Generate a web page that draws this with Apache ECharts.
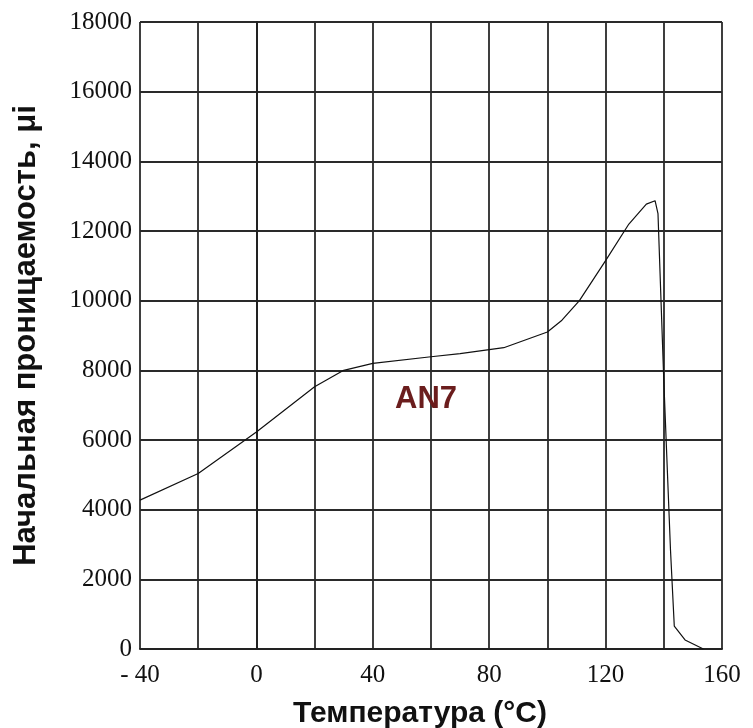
<!DOCTYPE html>
<html>
<head>
<meta charset="utf-8">
<script src="https://cdn.jsdelivr.net/npm/echarts@6/dist/echarts.min.js"></script>
<style>html,body{margin:0;padding:0;background:#fff}#c{width:753px;height:728px}</style>
</head>
<body>
<div id="c"></div>
<script>
var temperature = [-40, -20, 0, 20, 30, 40, 60, 70, 85, 100, 105, 111, 120, 128, 134, 137, 138, 140, 142.3, 143.6, 147.3, 153.6];
var permeability = [4275, 5040, 6230, 7530, 8000, 8200, 8390, 8480, 8650, 9100, 9440, 10000, 11150, 12200, 12770, 12870, 12500, 7700, 2840, 660, 260, 0];
var xTicks = [-40, 0, 40, 80, 120, 160];
var xTickLabels = ['- 40', '0', '40', '80', '120', '160'];
var yTickLabels = ['0', '2000', '4000', '6000', '8000', '10000', '12000', '14000', '16000', '18000'];
var seriesName = 'AN7';
var labelPos = [58.3, 7160];

var chart = echarts.init(document.getElementById('c'), null, {renderer: 'canvas'});
var gridLine = {show: true, lineStyle: {color: '#2a2a2a', width: 1.8}};
chart.setOption({
  animation: false,
  backgroundColor: '#fff',
  grid: {left: 140, right: 31, top: 22, bottom: 79, containLabel: false, outerBoundsMode: 'none'},
  xAxis: {
    type: 'value', min: -40, max: 160, interval: 20,
    name: 'Температура (°C)', nameLocation: 'middle', nameGap: 50,
    nameTextStyle: {fontFamily: 'Liberation Sans, Arial', fontWeight: 'bold', fontSize: 30, color: '#111', padding: [0, 22, 0, 0]},
    axisLine: {show: true, lineStyle: {color: '#222', width: 2}},
    axisTick: {show: false},
    splitLine: gridLine,
    axisLabel: {
      margin: 14, fontFamily: 'Liberation Serif, Times New Roman', fontSize: 25, color: '#111',
      formatter: function (v) { var i = xTicks.indexOf(v); return i >= 0 ? xTickLabels[i] : ''; }
    }
  },
  yAxis: {
    type: 'value', min: 0, max: 18000, interval: 2000,
    name: 'Начальная проницаемость, μi', nameLocation: 'middle', nameGap: 98,
    nameTextStyle: {fontFamily: 'Liberation Sans, Arial', fontWeight: 'bold', fontSize: 31, color: '#111'},
    axisLine: {show: true, lineStyle: {color: '#222', width: 2}},
    axisTick: {show: false},
    splitLine: gridLine,
    axisLabel: {
      margin: 8, fontFamily: 'Liberation Serif, Times New Roman', fontSize: 25, color: '#111',
      formatter: function (v) { return yTickLabels[Math.round(v / 2000)]; }
    }
  },
  series: [{
    name: seriesName,
    type: 'line',
    data: temperature.map(function (t, i) { return [t, permeability[i]]; }),
    showSymbol: false,
    lineStyle: {color: '#111', width: 1.2},
    markPoint: {
      symbol: 'circle', symbolSize: 1,
      itemStyle: {color: 'rgba(0,0,0,0)'},
      label: {show: true, position: 'inside', formatter: seriesName, color: '#6b1d1d',
              fontFamily: 'Liberation Sans, Arial', fontWeight: 'bold', fontSize: 31},
      data: [{coord: labelPos}]
    }
  }]
});
</script>
</body>
</html>
